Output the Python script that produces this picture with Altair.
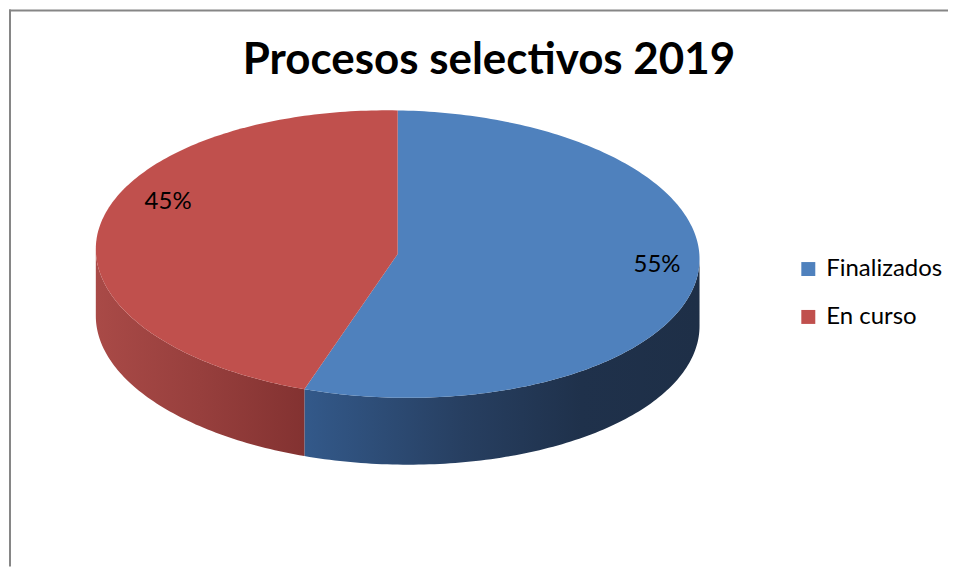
import numpy as np
import pandas as pd
import altair as alt

# ---- data ----
title_text = "Procesos selectivos 2019"
categories = ["Finalizados", "En curso"]
values = [55, 45]
labels = ["55%", "45%"]
colors = ["#4F81BD", "#C0504D"]

# ---- geometry / style constants (chart pixel space) ----
W, H = 941, 558
CX, CY = 389.5, 245.0       # ellipse centre
A, B = 302.5, 144.0         # semi-axes of the top face
K = 5.0                     # slight tilt (right side lower)
DEPTH = 67.0                # thickness of the pie
label_radius = [0.87, 0.77]
label_lift = [-13.0, -31.0]
side_stops = {
    "Finalizados": [("#33598A", 0.0), ("#273F61", 0.4), ("#1F314B", 0.7), ("#1E2F47", 1.0)],
    "En curso": [("#A94A47", 0.0), ("#973F3D", 0.5), ("#833231", 1.0)],
}


def pt(theta_deg, drop=0.0, r=1.0):
    t = np.radians(theta_deg)
    x = CX + r * A * np.sin(t)
    y = CY - r * B * np.cos(t) + r * K * np.sin(t) + drop
    return float(x), float(y)


total = float(sum(values))
bounds = []
acc = 0.0
for v in values:
    start = acc / total * 360.0
    acc += v
    end = acc / total * 360.0
    bounds.append((start, end))

# top face polygons
top_rows = []
for cat, (s, e) in zip(categories, bounds):
    i = 0
    x, y = pt(0, r=0)
    top_rows.append(dict(slice=cat, i=i, x=x, y=y)); i += 1
    for th in np.append(np.arange(s, e, 1.0), e):
        x, y = pt(th)
        top_rows.append(dict(slice=cat, i=i, x=x, y=y)); i += 1
    x, y = pt(0, r=0)
    top_rows.append(dict(slice=cat, i=i, x=x, y=y))
top_df = pd.DataFrame(top_rows)

# visible side walls (front half: 90..270 degrees)
side_frames = {}
for cat, (s, e) in zip(categories, bounds):
    lo, hi = max(s, 90.0), min(e, 270.0)
    if hi <= lo:
        continue
    rows = []
    i = 0
    ths = np.append(np.arange(lo, hi, 1.0), hi)
    for th in ths:
        x, y = pt(th)
        rows.append(dict(slice=cat, i=i, x=x, y=y)); i += 1
    for th in ths[::-1]:
        x, y = pt(th, drop=DEPTH)
        rows.append(dict(slice=cat, i=i, x=x, y=y)); i += 1
    x, y = pt(ths[0])
    rows.append(dict(slice=cat, i=i, x=x, y=y))
    side_frames[cat] = pd.DataFrame(rows)

# label positions from slice mid angles
lab_rows = []
for k, (cat, (s, e)) in enumerate(zip(categories, bounds)):
    x, y = pt((s + e) / 2.0, r=label_radius[k])
    lab_rows.append(dict(slice=cat, label=labels[k], x=x, y=y + label_lift[k]))
lab_df = pd.DataFrame(lab_rows)

xs = alt.Scale(domain=[0, W], nice=False, zero=False)
ys = alt.Scale(domain=[0, H], nice=False, zero=False, reverse=True)
X = alt.X("x:Q", scale=xs, axis=None)
Y = alt.Y("y:Q", scale=ys, axis=None)

layers = []
for cat, df in side_frames.items():
    grad = alt.LinearGradient(
        gradient="linear", x1=0, y1=0, x2=1, y2=0,
        stops=[alt.GradientStop(color=c, offset=o) for c, o in side_stops[cat]],
    )
    layers.append(
        alt.Chart(df).mark_line(filled=True, fill=grad, strokeWidth=0).encode(
            x=X, y=Y, order="i:Q"
        )
    )

top = alt.Chart(top_df).mark_line(filled=True, strokeWidth=0).encode(
    x=X, y=Y, order="i:Q", detail="slice:N",
    fill=alt.Fill(
        "slice:N",
        scale=alt.Scale(domain=categories, range=colors),
        legend=alt.Legend(
            title=None, orient="none", legendX=789, legendY=248,
            symbolType="square", symbolSize=196, symbolStrokeWidth=0,
            symbolOpacity=1,
            labelFont="Lato", labelFontSize=24, labelColor="#000000",
            labelOffset=6, rowPadding=24, padding=0,
        ),
    ),
)
layers.append(top)

text = alt.Chart(lab_df).mark_text(
    font="Lato", fontSize=24, color="#000000", align="center", baseline="middle"
).encode(x=X, y=Y, text="label:N")
layers.append(text)

title = alt.Chart(pd.DataFrame({"t": [title_text]})).mark_text(
    font="Lato", fontSize=44, fontWeight="bold", color="#000000",
    align="center", baseline="alphabetic"
).encode(x=alt.value(481), y=alt.value(65), text="t:N")
layers.append(title)

border_top = alt.Chart(pd.DataFrame({"a": [0]})).mark_rule(color="#868686", strokeWidth=2).encode(
    x=alt.value(0), x2=alt.value(W), y=alt.value(1)
)
border_left = alt.Chart(pd.DataFrame({"a": [0]})).mark_rule(color="#868686", strokeWidth=2).encode(
    x=alt.value(1), y=alt.value(0), y2=alt.value(H)
)
layers += [border_top, border_left]

chart = alt.layer(*layers).properties(
    width=W, height=H, padding=0
).configure_view(strokeWidth=0)

chart.save("out.html", embed_options={"renderer": "svg", "actions": False})
